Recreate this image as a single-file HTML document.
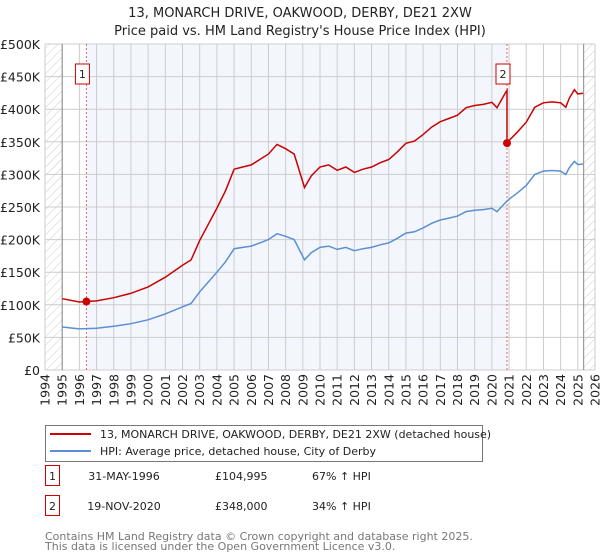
<!DOCTYPE html>
<html><head><meta charset="utf-8"><style>
body{margin:0;background:#fff;font-family:"DejaVu Sans","Liberation Sans",sans-serif;}
#wrap{position:relative;width:600px;height:560px;overflow:hidden}
svg text{font-family:"DejaVu Sans","Liberation Sans",sans-serif}
</style></head><body><div id="wrap">
<svg id="chart" width="600" height="560"></svg>
</div>
<script>
const years=[1995,1996,1997,1998,1999,2000,2001,2002,2002.5,2003,2003.5,2004,2004.5,2005,2005.5,2006,2006.5,2007,2007.5,2008,2008.5,2009.1,2009.5,2010,2010.5,2011,2011.5,2012,2012.5,2013,2013.5,2014,2014.5,2015,2015.5,2016,2016.5,2017,2017.5,2018,2018.5,2019,2019.5,2020,2020.3,2020.8,2021,2021.5,2022,2022.5,2023,2023.5,2024,2024.3,2024.5,2024.8,2025,2025.3];
const hpi=[66,63,64,67,71,77,86,97,102,120,135,150,166,186,188,190,195,200,209,205,200,169,180,188,190,185,188,183,186,188,192,195,202,210,212,218,225,230,233,236,243,245,246,248,243,257,262,272,283,300,305,306,305,300,310,320,315,316];
const sales=[{t:1996.41,v:104995,label:"1"},{t:2020.88,v:348000,label:"2"}];
const yTicks=[0,50,100,150,200,250,300,350,400,450,500];
const yLabels=["£0","£50K","£100K","£150K","£200K","£250K","£300K","£350K","£400K","£450K","£500K"];
const xTicks=[1994,1995,1996,1997,1998,1999,2000,2001,2002,2003,2004,2005,2006,2007,2008,2009,2010,2011,2012,2013,2014,2015,2016,2017,2018,2019,2020,2021,2022,2023,2024,2025,2026];

const L=45,R=595,T=44,B=370;
const X=t=>L+(t-1994)/32*(R-L);
const Y=v=>B-v/500*(B-T);
const NS="http://www.w3.org/2000/svg";
const svg=document.getElementById('chart');
function mk(tag,at,parent){const e=document.createElementNS(NS,tag);for(const k in at)e.setAttribute(k,at[k]);(parent||svg).appendChild(e);return e;}
function hpiAt(t){for(let i=1;i<years.length;i++){if(t<=years[i]){const f=(t-years[i-1])/(years[i]-years[i-1]);return hpi[i-1]+f*(hpi[i]-hpi[i-1]);}}return hpi[hpi.length-1];}

const defs=mk('defs',{});
const pat=mk('pattern',{id:'hatch',width:6,height:6,patternUnits:'userSpaceOnUse',patternTransform:'rotate(45)'},defs);
mk('line',{x1:0,y1:0,x2:0,y2:6,stroke:'#ccc','stroke-width':1},pat);

let e;
e=mk('text',{x:300,y:17,'text-anchor':'middle','font-size':13,fill:'#222'});e.textContent="13, MONARCH DRIVE, OAKWOOD, DERBY, DE21 2XW";

e=mk('text',{x:300,y:35,'text-anchor':'middle','font-size':13,fill:'#222'});e.textContent="Price paid vs. HM Land Registry's House Price Index (HPI)";


e=mk('rect',{x:X(sales[0].t),y:T,width:X(sales[1].t)-X(sales[0].t),height:B-T,fill:'#f3f7fd'});

e=mk('rect',{x:L,y:T,width:X(1995)-L,height:B-T,fill:'url(#hatch)'});

e=mk('rect',{x:X(2025.34),y:T,width:R-X(2025.34),height:B-T,fill:'url(#hatch)'});


yTicks.forEach((v,i)=>{
 const l=mk('line',{x1:L,x2:R,y1:Y(v),y2:Y(v),stroke:'#ccc','stroke-width':1});
 
 const t=mk('text',{x:40,y:Y(v)+5,'text-anchor':'end','font-size':12.5,fill:'#222'});t.textContent=yLabels[i];
 
});
xTicks.forEach(yr=>{
 const l=mk('line',{x1:X(yr),x2:X(yr),y1:T,y2:B,stroke:'#ccc','stroke-width':1});
 
 const t=mk('text',{x:0,y:0,'text-anchor':'end','font-size':12.5,fill:'#222',transform:`translate(${X(yr)+4.5},374) rotate(-90)`});t.textContent=yr;
 
});
e=mk('line',{x1:X(1995),x2:X(1995),y1:T,y2:B,stroke:'#888'});
e=mk('line',{x1:X(2025.34),x2:X(2025.34),y1:T,y2:B,stroke:'#888'});

sales.forEach(s=>{
 const l=mk('line',{x1:X(s.t),x2:X(s.t),y1:T,y2:B,stroke:'#e06666','stroke-dasharray':'2,2','stroke-width':1});
 
});

let d=years.map((t,i)=>(i?'L':'M')+X(t).toFixed(1)+','+Y(hpi[i]).toFixed(1)).join('');
e=mk('path',{d:d,fill:'none',stroke:'#5b8fd4','stroke-width':1.5});


const r1=sales[0].v/1000/hpiAt(sales[0].t), r2=sales[1].v/1000/hpiAt(sales[1].t);
let pts=[];
years.forEach((t,i)=>{ if(t<sales[1].t) pts.push([t,hpi[i]*r1]); });
pts.push([sales[1].t,hpiAt(sales[1].t)*r1]);
pts.push([sales[1].t,sales[1].v/1000]);
years.forEach((t,i)=>{ if(t>sales[1].t) pts.push([t,hpi[i]*r2]); });
d=pts.map((p,i)=>(i?'L':'M')+X(p[0]).toFixed(1)+','+Y(p[1]).toFixed(1)).join('');
e=mk('path',{d:d,fill:'none',stroke:'#cc0000','stroke-width':1.5});


sales.forEach(s=>{
 const c=mk('circle',{cx:X(s.t),cy:Y(s.v/1000),r:4,fill:'#cc0000'});
 
 const bx=X(s.t)-11;
 const r=mk('rect',{x:bx,y:64,width:14,height:20,fill:'#fff',stroke:'#cc0000'});
 
 const t=mk('text',{x:bx+7,y:78,'text-anchor':'middle','font-size':11,fill:'#222'});t.textContent=s.label;
 
});

e=mk('rect',{x:45.5,y:425.5,width:437,height:36,fill:'#fff',stroke:'#777'});
e=mk('line',{x1:50,x2:91,y1:434,y2:434,stroke:'#cc0000','stroke-width':2});
e=mk('text',{x:100,y:438,'font-size':11,fill:'#222'});e.textContent="13, MONARCH DRIVE, OAKWOOD, DERBY, DE21 2XW (detached house)";
e=mk('line',{x1:50,x2:91,y1:451,y2:451,stroke:'#5b8fd4','stroke-width':2});
e=mk('text',{x:100,y:455,'font-size':11,fill:'#222'});e.textContent="HPI: Average price, detached house, City of Derby";

const rows=[["1","31-MAY-1996","£104,995","67% ↑ HPI",483],["2","19-NOV-2020","£348,000","34% ↑ HPI",513]];
rows.forEach(rw=>{
 const y=rw[4];
 const b=mk('rect',{x:45.5,y:y-17.5,width:14,height:20,fill:'#fff',stroke:'#cc0000'});
 let t=mk('text',{x:52.5,y:y-3,'text-anchor':'middle','font-size':11,fill:'#222'});t.textContent=rw[0];
 t=mk('text',{x:124,y:y-3,'text-anchor':'middle','font-size':11,fill:'#222'});t.textContent=rw[1];
 t=mk('text',{x:215,y:y-3,'font-size':11,fill:'#222'});t.textContent=rw[2];
 t=mk('text',{x:312,y:y-3,'font-size':11,fill:'#222'});t.textContent=rw[3];
});
e=mk('text',{x:45,y:540,'font-size':11,fill:'#777'});e.textContent="Contains HM Land Registry data © Crown copyright and database right 2025.";
e=mk('text',{x:45,y:550,'font-size':11,fill:'#777'});e.textContent="This data is licensed under the Open Government Licence v3.0.";
</script></body></html>
